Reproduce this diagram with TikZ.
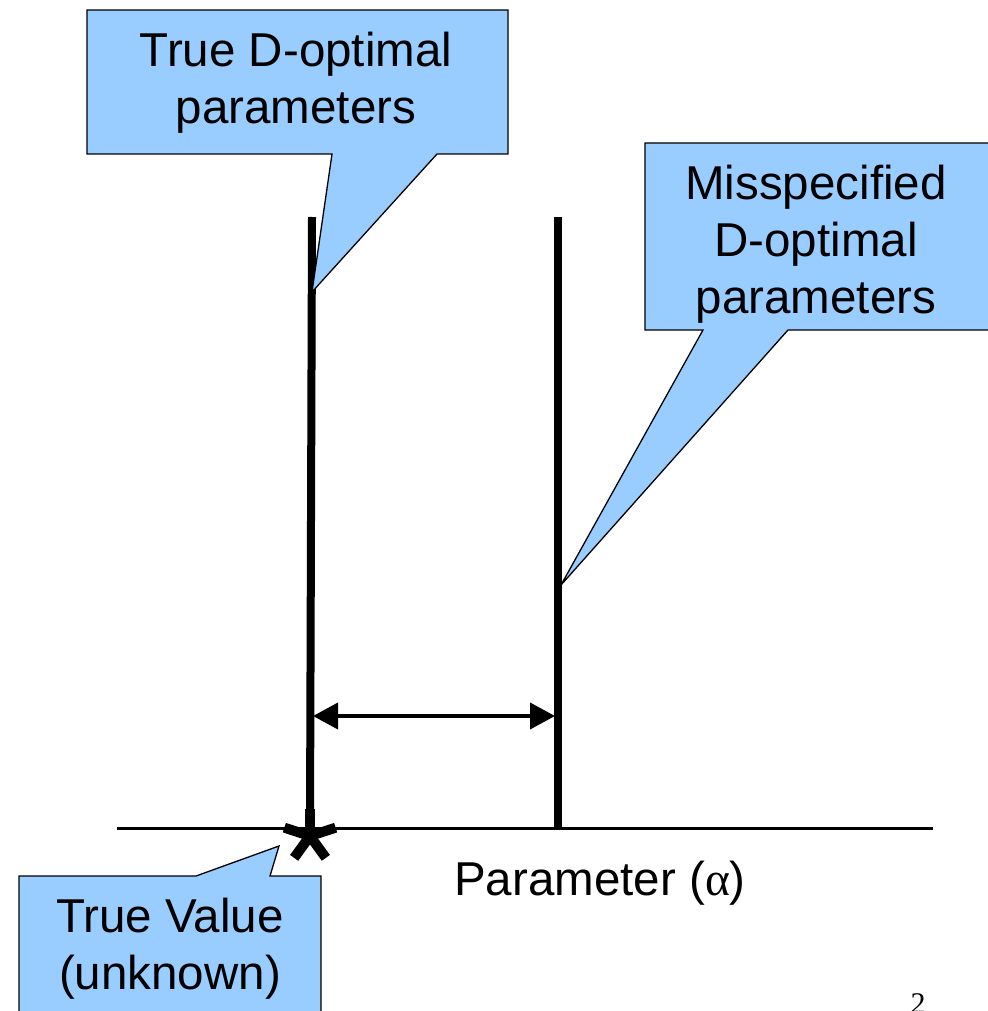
\documentclass[tikz,border=0pt]{standalone}
\usepackage{fontspec}
\setmainfont{Liberation Sans}
\newfontfamily\symfont{Liberation Serif}
\usetikzlibrary{arrows.meta}
\definecolor{calloutblue}{HTML}{99CCFF}
\tikzset{
	callbox/.style={fill=calloutblue, draw=black, line width=1.3pt, line join=miter},
	calltext/.style={align=center, inner sep=0pt, font=\fontsize{47.5}{57}\selectfont},
	bar/.style={line width=8pt},
	gap/.style={line width=4pt, {Triangle[length=25pt,width=26pt]}-{Triangle[length=25pt,width=26pt]}},
}
\begin{document}
\begin{tikzpicture}[x=1pt,y=-1pt]
	\useasboundingbox (0,0) rectangle (987,1011);

	% axis and the two parameter lines
	\coordinate (axisL) at (117,828);
	\coordinate (axisR) at (933,828);
	\coordinate (trueTop) at (312,217);
	\coordinate (trueBot) at (310,822);
	\coordinate (misTop) at (558,217);
	\coordinate (misBot) at (558,828);
	\draw[line width=3pt] (axisL) -- (axisR);
	\draw[bar] (trueTop) -- (trueBot);
	\draw[bar] (misTop) -- (misBot);

	\coordinate (gapL) at (313,716);
	\coordinate (gapR) at (555,716);
	\draw[gap] (gapL) -- (gapR);

	% true value star
	\coordinate (star) at (310,836);
	\foreach \a in {-90,-18,-162,54,126}
		\draw[line width=10pt] (star) -- ++(\a:27);

	% callouts
	\coordinate (trueTip) at (312,292);
	\coordinate (misTip) at (561,585);
	\coordinate (starTip) at (279,846);
	\draw[callbox] (87,10) -- (508,10) -- (508,154) -- (437,154) -- (trueTip) -- (332,154) -- (87,154) -- cycle;
	\draw[callbox] (645,143) -- (990,143) -- (990,330) -- (788,330) -- (misTip) -- (703,330) -- (645,330) -- cycle;
	\draw[callbox] (19,876) -- (196,876) -- (starTip) -- (270,876) -- (321,876) -- (321,1030) -- (19,1030) -- cycle;

	\node[calltext] (trueLbl) at (296,82.5) {True D-optimal\\parameters};
	\node[calltext] (misLbl) at (816,244) {Misspecified\\D-optimal\\parameters};
	\node[calltext] (valLbl) at (170,949) {True Value\\(unknown)};

	\node[font=\fontsize{47.5}{57}\selectfont, anchor=base, inner sep=0pt] (axisLbl) at (600,895) {Parameter ({\symfont α})};
	\node[font=\fontsize{30}{36}\selectfont\symfont, anchor=base, inner sep=0pt] (pageNo) at (918,1013) {2};
\end{tikzpicture}
\end{document}
